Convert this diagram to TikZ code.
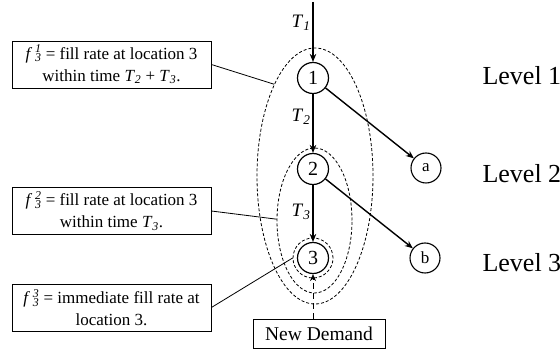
\documentclass[tikz,border=0pt]{standalone}
\usepackage{fontspec}
\setmainfont{Liberation Serif}
\usetikzlibrary{shapes.geometric,arrows.meta}
\newcommand{\ssub}[2]{\rlap{\textsuperscript{\textit{#1}}}\textsubscript{\textit{#2}}}
\newcommand{\Tsub}[1]{\textit{T}\textsubscript{\textit{#1}}}
\begin{document}
\begin{tikzpicture}[x=1pt,y=-1pt,
  loc/.style={draw,circle,line width=1.2pt,minimum size=31pt,inner sep=0pt,font=\fontsize{20}{20}\selectfont},
  leaf/.style={draw,circle,line width=1.1pt,minimum size=30pt,inner sep=0pt,font=\fontsize{17}{17}\selectfont},
  flow/.style={line width=1.4pt,-{Stealth[length=8pt,width=6.5pt]}},
  region/.style={draw,dash pattern=on 3pt off 2pt,line width=0.8pt},
  infobox/.style={draw,line width=0.8pt,minimum width=199pt,minimum height=47pt,align=center,inner sep=2pt,font=\fontsize{17}{22}\selectfont},
  leader/.style={line width=0.8pt},
  tlab/.style={font=\fontsize{19}{19}\selectfont},
  lvl/.style={anchor=base west,font=\fontsize{26}{26}\selectfont}]
\useasboundingbox (0,0) rectangle (560,352);
% regions
\node[region,ellipse,minimum width=116pt,minimum height=256pt,inner sep=0pt] (outer) at (315,176) {};
\node[region,ellipse,minimum width=75pt,minimum height=145pt,inner sep=0pt] (mid) at (314.5,220.5) {};
% locations
\node[loc] (n1) at (313,78) {1};
\node[loc] (n2) at (313,169) {2};
\node[loc] (n3) at (313,258) {3};
\node[region,circle,minimum size=40pt,inner sep=0pt] (s3) at (313,258) {};
\node[leaf] (na) at (426,168) {a};
\node[leaf] (nb) at (425,258) {b};
\coordinate (top) at (313,2);
% flows
\draw[flow] (top) -- (n1);
\draw[flow] (n1) -- (n2);
\draw[flow] (n2) -- (n3);
\draw[flow] (n1) -- (na);
\draw[flow] (n2) -- (nb);
% labels
\node[tlab] (t1) at (301,23) {\Tsub{1}};
\node[tlab] (t2) at (301,117) {\Tsub{2}};
\node[tlab] (t3) at (301,212) {\Tsub{3}};
\node[lvl] (l1) at (479,85) {Level 1};
\node[lvl] (l2) at (479,183) {Level 2};
\node[lvl] (l3) at (479,272) {Level 3};
% info boxes
\node[infobox] (b1) at (111.5,64.5) {\textit{f}\,\ssub{1}{3} = fill rate at location 3\\within time \Tsub{2} + \Tsub{3}.};
\node[infobox] (b2) at (111.5,211) {\textit{f}\,\ssub{2}{3} = fill rate at location 3\\within time \Tsub{3}.};
\node[infobox] (b3) at (111.5,307.5) {\textit{f}\,\ssub{3}{3} = immediate fill rate at\\location 3.};
\draw[leader] (b1.east) -- (outer.114);
\draw[leader] (b2.east) -- (mid.178);
\draw[leader] (b3.east) -- (s3.180);
% new demand
\node[draw,line width=0.8pt,minimum width=132pt,minimum height=29pt,inner sep=0pt,font=\fontsize{19.5}{19.5}\selectfont] (nd) at (319,333.5) {New Demand};
\draw[line width=0.8pt,dash pattern=on 6pt off 4pt,-{Stealth[length=7pt,width=6pt]}] (nd.north -| n3) -- (n3);
\end{tikzpicture}
\end{document}
